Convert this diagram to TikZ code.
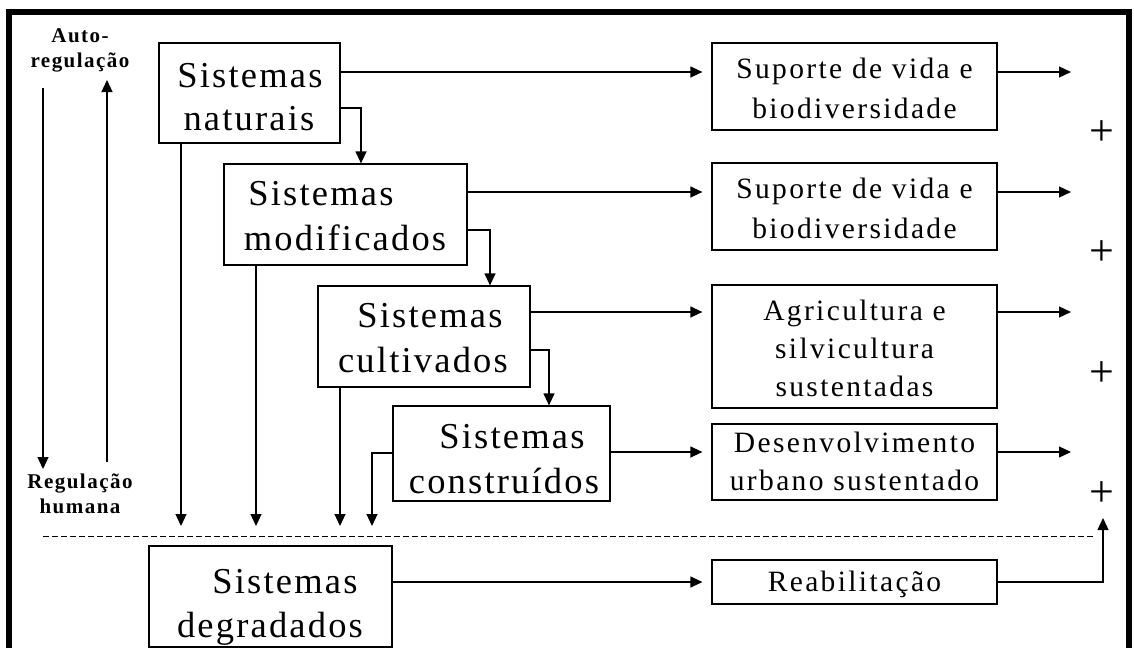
\documentclass[tikz,border=0pt]{standalone}
\usepackage{fontspec}
\usetikzlibrary{arrows.meta}
\setmainfont{Liberation Serif}
\newfontfamily\BigFF[LetterSpace=6,Ligatures=CommonOff]{Liberation Serif}
\newfontfamily\MidFF[LetterSpace=8,Ligatures=CommonOff]{Liberation Serif}
\newfontfamily\LabFF[LetterSpace=7,Ligatures=CommonOff]{Liberation Serif}
\newcommand\BigF{\BigFF\fontsize{36.5}{43}\selectfont}
\newcommand\MidF{\MidFF\fontsize{29.5}{38}\selectfont}
\newcommand\LabF{\LabFF\bfseries\fontsize{21}{24}\selectfont}
\newcommand\PlusF{\fontsize{44}{46}\selectfont}
\tikzset{
  box/.style={draw, line width=1.2pt, inner sep=0pt},
  arr/.style={line width=1.2pt, -{Triangle[length=12pt,width=11pt]}},
  big/.style={font=\BigF, inner sep=0pt, anchor=base},
  mid/.style={font=\MidF, inner sep=0pt, anchor=base},
  lab/.style={font=\LabF, inner sep=0pt, anchor=base},
  plus/.style={font=\PlusF, inner sep=0pt},
  dashln/.style={line width=1pt, dash pattern=on 6pt off 3pt},
  frame/.style={line width=6pt}
}
\begin{document}
\begin{tikzpicture}[x=1pt,y=-1pt]
\useasboundingbox (0,0) rectangle (1134,648);
% frame
\draw[frame] (8.5,648) -- (8.5,12) -- (1129,12) -- (1129,648);

% left boxes
\node[box, minimum width=181pt, minimum height=100pt] (b1) at (249.5,93) {};
\node[box, minimum width=243pt, minimum height=101pt] (b2) at (345.5,214.5) {};
\node[box, minimum width=212pt, minimum height=101pt] (b3) at (424,336.5) {};
\node[box, minimum width=217pt, minimum height=95pt] (b4) at (501.5,453.5) {};
\node[box, minimum width=243pt, minimum height=101pt] (b5) at (270.5,596.5) {};

\node[big] (b1a) at (250,87) {Sistemas};
\node[big] (b1b) at (249,130) {naturais};
\node[big] (b2a) at (321,205) {Sistemas};
\node[big] (b2b) at (345,250) {modificados};
\node[big] (b3a) at (430,327) {Sistemas};
\node[big] (b3b) at (423,372) {cultivados};
\node[big] (b4a) at (512,448) {Sistemas};
\node[big] (b4b) at (504,493) {construídos};
\node[big] (b5a) at (285,593) {Sistemas};
\node[big] (b5b) at (270,637) {degradados};

% right boxes
\node[box, minimum width=285pt, minimum height=87pt] (r1) at (854.5,86.5) {};
\node[box, minimum width=285pt, minimum height=87pt] (r2) at (854.5,206.5) {};
\node[box, minimum width=285pt, minimum height=123pt] (r3) at (854.5,346.5) {};
\node[box, minimum width=285pt, minimum height=76pt] (r4) at (854.5,462) {};
\node[box, minimum width=285pt, minimum height=44pt] (r5) at (854.5,582) {};

\node[mid] (r1a) at (854.5,78) {Suporte de vida e};
\node[mid] (r1b) at (854.5,118) {biodiversidade};
\node[mid] (r2a) at (854.5,198) {Suporte de vida e};
\node[mid] (r2b) at (854.5,238) {biodiversidade};
\node[mid] (r3a) at (854.5,320) {Agricultura e};
\node[mid] (r3b) at (854.5,358) {silvicultura};
\node[mid] (r3c) at (854.5,396) {sustentadas};
\node[mid] (r4a) at (854.5,452) {Desenvolvimento};
\node[mid] (r4b) at (854.5,490) {urbano sustentado};
\node[mid] (r5a) at (854.5,591) {Reabilitação};

% side labels
\node[lab] (la1) at (80,42) {Auto-};
\node[lab] (la2) at (80,67) {regulação};
\node[lab] (la3) at (80,488) {Regulação};
\node[lab] (la4) at (80,513) {humana};

% plus signs
\node[plus] (p1) at (1102,133) {+};
\node[plus] (p2) at (1102,253) {+};
\node[plus] (p3) at (1102,374) {+};
\node[plus] (p4) at (1102,494) {+};

% helper coordinates
\coordinate (h1) at (0,72);
\coordinate (h2) at (0,192);
\coordinate (h3) at (0,312);
\coordinate (h4) at (0,452);
\coordinate (h5) at (0,582);
\coordinate (rt) at (1071,0);
\coordinate (dl) at (0,526);
\coordinate (e1) at (361,108);
\coordinate (e2) at (490,230);
\coordinate (e3) at (549,350);
\coordinate (e4) at (372,453);
\coordinate (d1) at (181,0);
\coordinate (d2) at (256,0);
\coordinate (d3) at (340,0);
\coordinate (up) at (1103,518);
\coordinate (ldT) at (43,88);
\coordinate (ldB) at (43,469);
\coordinate (luB) at (107,462);
\coordinate (luT) at (107,80);
\coordinate (dashL) at (43,536);
\coordinate (dashR) at (1093,536);

% left regulation arrows
\draw[arr] (ldT) -- (ldB);
\draw[arr] (luB) -- (luT);

% horizontal arrows
\draw[arr, shorten >=9pt] (b1.east |- h1) -- (r1.west |- h1);
\draw[arr, shorten >=9pt] (b2.east |- h2) -- (r2.west |- h2);
\draw[arr, shorten >=9pt] (b3.east |- h3) -- (r3.west |- h3);
\draw[arr, shorten >=9pt] (b4.east |- h4) -- (r4.west |- h4);
\draw[arr, shorten >=9pt] (b5.east |- h5) -- (r5.west |- h5);
\draw[arr] (r1.east |- h1) -- (rt |- h1);
\draw[arr] (r2.east |- h2) -- (rt |- h2);
\draw[arr] (r3.east |- h3) -- (rt |- h3);
\draw[arr] (r4.east |- h4) -- (rt |- h4);
\draw[arr] (r5.east |- h5) -| (up);

% elbow arrows
\draw[arr] (b1.east |- e1) -| (b2.north -| e1);
\draw[arr] (b2.east |- e2) -| (b3.north -| e2);
\draw[arr] (b3.east |- e3) -| (b4.north -| e3);
\draw[arr] (b4.west |- e4) -| (e4 |- dl);

% down arrows
\draw[arr] (b1.south -| d1) -- (d1 |- dl);
\draw[arr] (b2.south -| d2) -- (d2 |- dl);
\draw[arr] (b3.south -| d3) -- (d3 |- dl);

% dashed line
\draw[dashln] (dashL) -- (dashR);
\end{tikzpicture}
\end{document}
